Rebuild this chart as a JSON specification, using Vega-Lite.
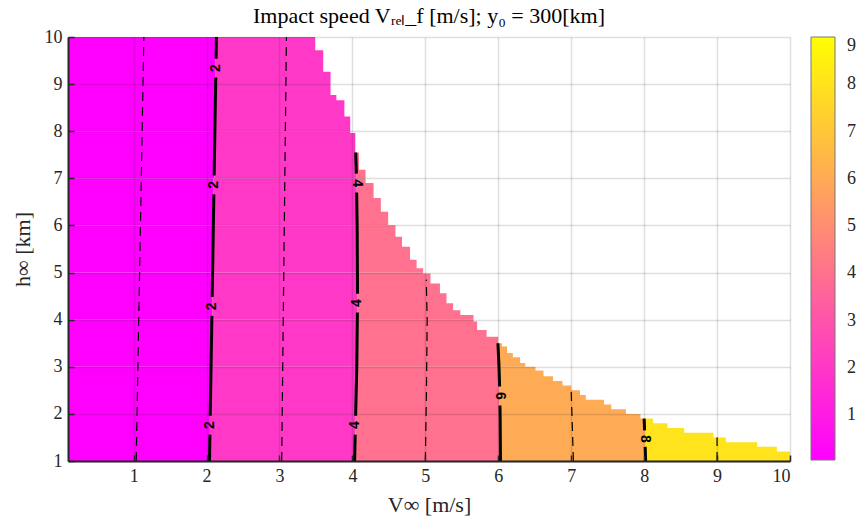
{
  "$schema": "https://vega.github.io/schema/vega-lite/v6.json",
  "width": 722,
  "height": 424,
  "autosize": {"type": "none"},
  "padding": {"left": 68, "top": 37, "right": 78, "bottom": 62},
  "background": "white",
  "title": {
    "text": "Impact speed Vᵣₑₗ_f [m/s];  y₀ = 300[km]",
    "font": "Liberation Serif",
    "fontSize": 22,
    "fontWeight": "normal",
    "color": "#000000",
    "offset": 0
  },
  "config": {
    "view": {"stroke": null},
    "axis": {
      "labelFont": "Liberation Serif",
      "labelFontSize": 18,
      "labelColor": "#262626",
      "titleFont": "Liberation Serif",
      "titleFontSize": 22,
      "titleFontWeight": "normal",
      "titleColor": "#262626",
      "domainColor": "#262626",
      "domainWidth": 2,
      "tickColor": "#262626",
      "tickWidth": 1.5,
      "tickSize": -6,
      "labelPadding": 12,
      "gridColor": "#262626",
      "gridOpacity": 0.15,
      "gridWidth": 1.5
    },
    "axisX": {"titlePadding": 9},
    "axisY": {"titlePadding": 10},
    "legend": {
      "orient": "right",
      "offset": 21,
      "padding": 0,
      "gradientLength": 423,
      "gradientThickness": 24,
      "gradientStrokeColor": "#777777",
      "gradientStrokeWidth": 1,
      "labelFont": "Liberation Serif",
      "labelFontSize": 18,
      "labelColor": "#262626",
      "labelOverlap": false,
      "labelBaseline": "middle"
    }
  },
  "datasets": {
    "bands": [
      {"band": "0-2", "level": 0.05, "h": 1, "h2": 2, "V": 0.1, "V2": 2.046},
      {"band": "0-2", "level": 0.05, "h": 2, "h2": 3, "V": 0.1, "V2": 2.056},
      {"band": "0-2", "level": 0.05, "h": 3, "h2": 4, "V": 0.1, "V2": 2.067},
      {"band": "0-2", "level": 0.05, "h": 4, "h2": 5, "V": 0.1, "V2": 2.077},
      {"band": "0-2", "level": 0.05, "h": 5, "h2": 6, "V": 0.1, "V2": 2.088},
      {"band": "0-2", "level": 0.05, "h": 6, "h2": 7, "V": 0.1, "V2": 2.098},
      {"band": "0-2", "level": 0.05, "h": 7, "h2": 8, "V": 0.1, "V2": 2.109},
      {"band": "0-2", "level": 0.05, "h": 8, "h2": 10, "V": 0.1, "V2": 2.125},
      {"band": "2-4", "level": 2, "h": 1, "h2": 2, "V": 2.046, "V2": 4.038},
      {"band": "2-4", "level": 2, "h": 2, "h2": 3, "V": 2.056, "V2": 4.053},
      {"band": "2-4", "level": 2, "h": 3, "h2": 4, "V": 2.067, "V2": 4.064},
      {"band": "2-4", "level": 2, "h": 4, "h2": 5, "V": 2.077, "V2": 4.069},
      {"band": "2-4", "level": 2, "h": 5, "h2": 6, "V": 2.088, "V2": 4.068},
      {"band": "2-4", "level": 2, "h": 6, "h2": 7, "V": 2.098, "V2": 4.06},
      {"band": "2-4", "level": 2, "h": 7, "h2": 8, "V": 2.109, "V2": 4.05},
      {"band": "2-4", "level": 2, "h": 8, "h2": 10, "V": 2.125, "V2": 4.042},
      {"band": "4-6", "level": 4, "h": 1, "h2": 2, "V": 4.038, "V2": 6.028},
      {"band": "4-6", "level": 4, "h": 2, "h2": 3, "V": 4.053, "V2": 6.018},
      {"band": "4-6", "level": 4, "h": 3, "h2": 4, "V": 4.064, "V2": 6.003},
      {"band": "4-6", "level": 4, "h": 4, "h2": 5, "V": 4.069, "V2": 5.995},
      {"band": "4-6", "level": 4, "h": 5, "h2": 6, "V": 4.068, "V2": 5.995},
      {"band": "4-6", "level": 4, "h": 6, "h2": 7, "V": 4.06, "V2": 5.995},
      {"band": "4-6", "level": 4, "h": 7, "h2": 8, "V": 4.05, "V2": 5.995},
      {"band": "4-6", "level": 4, "h": 8, "h2": 10, "V": 4.042, "V2": 5.995},
      {"band": "6-8", "level": 6, "h": 1, "h2": 2, "V": 6.028, "V2": 8.01},
      {"band": "6-8", "level": 6, "h": 2, "h2": 3, "V": 6.018, "V2": 8.0},
      {"band": "6-8", "level": 6, "h": 3, "h2": 4, "V": 6.003, "V2": 8.0},
      {"band": "6-8", "level": 6, "h": 4, "h2": 10, "V": 5.995, "V2": 8.0},
      {"band": "8-10", "level": 8, "h": 1, "h2": 2, "V": 8.01, "V2": 10},
      {"band": "8-10", "level": 8, "h": 2, "h2": 10, "V": 8.0, "V2": 10}
    ],
    "edge": [
      {"V": 0.1, "h": 10},
      {"V": 3.49, "h": 9.72},
      {"V": 3.6, "h": 9.26},
      {"V": 3.7, "h": 8.77},
      {"V": 3.78, "h": 8.66},
      {"V": 3.89, "h": 8.31},
      {"V": 3.97, "h": 7.96},
      {"V": 4.04, "h": 7.55},
      {"V": 4.09, "h": 7.18},
      {"V": 4.18, "h": 6.9},
      {"V": 4.29, "h": 6.58},
      {"V": 4.39, "h": 6.29},
      {"V": 4.49, "h": 6.01},
      {"V": 4.59, "h": 5.76},
      {"V": 4.68, "h": 5.55},
      {"V": 4.79, "h": 5.27},
      {"V": 4.88, "h": 5.09},
      {"V": 4.97, "h": 4.98},
      {"V": 5.07, "h": 4.77},
      {"V": 5.2, "h": 4.56},
      {"V": 5.29, "h": 4.35},
      {"V": 5.38, "h": 4.2},
      {"V": 5.48, "h": 4.1},
      {"V": 5.66, "h": 3.96},
      {"V": 5.71, "h": 3.78},
      {"V": 5.84, "h": 3.64},
      {"V": 6.0, "h": 3.5},
      {"V": 6.05, "h": 3.43},
      {"V": 6.12, "h": 3.29},
      {"V": 6.2, "h": 3.2},
      {"V": 6.3, "h": 3.08},
      {"V": 6.37, "h": 3.0},
      {"V": 6.51, "h": 2.92},
      {"V": 6.62, "h": 2.8},
      {"V": 6.75, "h": 2.7},
      {"V": 6.88, "h": 2.6},
      {"V": 7.0, "h": 2.5},
      {"V": 7.12, "h": 2.4},
      {"V": 7.2, "h": 2.3},
      {"V": 7.45, "h": 2.2},
      {"V": 7.55, "h": 2.1},
      {"V": 7.75, "h": 2.0},
      {"V": 7.95, "h": 1.9},
      {"V": 8.12, "h": 1.8},
      {"V": 8.32, "h": 1.7},
      {"V": 8.55, "h": 1.6},
      {"V": 8.95, "h": 1.5},
      {"V": 9.12, "h": 1.4},
      {"V": 9.55, "h": 1.3},
      {"V": 9.82, "h": 1.2},
      {"V": 10, "h": 1.2}
    ],
    "solid": [
      {"seg": "2a", "h": 1, "V": 2.04}, {"seg": "2a", "h": 1.56, "V": 2.046},
      {"seg": "2b", "h": 1.96, "V": 2.05}, {"seg": "2b", "h": 4.08, "V": 2.073},
      {"seg": "2c", "h": 4.48, "V": 2.077}, {"seg": "2c", "h": 6.66, "V": 2.1},
      {"seg": "2d", "h": 7.06, "V": 2.104}, {"seg": "2d", "h": 9.14, "V": 2.126},
      {"seg": "2e", "h": 9.54, "V": 2.131}, {"seg": "2e", "h": 10, "V": 2.135},
      {"seg": "4a", "h": 1, "V": 4.03}, {"seg": "4a", "h": 1.56, "V": 4.038},
      {"seg": "4b", "h": 1.96, "V": 4.044}, {"seg": "4b", "h": 3, "V": 4.06}, {"seg": "4b", "h": 4.15, "V": 4.068},
      {"seg": "4c", "h": 4.55, "V": 4.07}, {"seg": "4c", "h": 6, "V": 4.065}, {"seg": "4c", "h": 6.7, "V": 4.058},
      {"seg": "4d", "h": 7.1, "V": 4.054}, {"seg": "4d", "h": 7.55, "V": 4.045},
      {"seg": "6a", "h": 1, "V": 6.03}, {"seg": "6a", "h": 2, "V": 6.025}, {"seg": "6a", "h": 2.18, "V": 6.023},
      {"seg": "6b", "h": 2.58, "V": 6.018}, {"seg": "6b", "h": 3, "V": 6.01}, {"seg": "6b", "h": 3.5, "V": 5.995},
      {"seg": "8a", "h": 1, "V": 8.02}, {"seg": "8a", "h": 1.3, "V": 8.014},
      {"seg": "8b", "h": 1.65, "V": 8.006}, {"seg": "8b", "h": 1.9, "V": 8.0}
    ],
    "dashed": [
      {"seg": "1", "h": 1, "V": 1.035}, {"seg": "1", "h": 4, "V": 1.07}, {"seg": "1", "h": 7, "V": 1.105}, {"seg": "1", "h": 10, "V": 1.14},
      {"seg": "3", "h": 1, "V": 3.03}, {"seg": "3", "h": 5.5, "V": 3.062}, {"seg": "3", "h": 10, "V": 3.095},
      {"seg": "5", "h": 1, "V": 5.0}, {"seg": "5", "h": 2.5, "V": 5.015}, {"seg": "5", "h": 4, "V": 5.025}, {"seg": "5", "h": 4.85, "V": 5.012},
      {"seg": "7", "h": 1, "V": 7.03}, {"seg": "7", "h": 2.47, "V": 7.0},
      {"seg": "9", "h": 1, "V": 9.0}, {"seg": "9", "h": 1.5, "V": 9.0}
    ],
    "labels": [
      {"txt": "2", "V": 2.127, "h": 9.34, "a": 270},
      {"txt": "2", "V": 2.102, "h": 6.86, "a": 270},
      {"txt": "2", "V": 2.075, "h": 4.28, "a": 270},
      {"txt": "2", "V": 2.048, "h": 1.76, "a": 270},
      {"txt": "4", "V": 4.056, "h": 6.9, "a": 90},
      {"txt": "4", "V": 4.069, "h": 4.35, "a": 270},
      {"txt": "4", "V": 4.041, "h": 1.76, "a": 270},
      {"txt": "6", "V": 6.021, "h": 2.38, "a": 90},
      {"txt": "8", "V": 8.01, "h": 1.47, "a": 90}
    ]
  },
  "encoding": {
    "x": {
      "field": "V",
      "type": "quantitative",
      "scale": {"domain": [0.1, 10], "nice": false, "zero": false},
      "axis": {"values": [1, 2, 3, 4, 5, 6, 7, 8, 9, 10], "title": "V∞ [m/s]", "zindex": 1}
    },
    "y": {
      "field": "h",
      "type": "quantitative",
      "scale": {"domain": [1, 10], "nice": false, "zero": false},
      "axis": {"values": [1, 2, 3, 4, 5, 6, 7, 8, 9, 10], "title": "h∞ [km]", "zindex": 1}
    }
  },
  "layer": [
    {
      "data": {"name": "bands"},
      "mark": {"type": "rect", "strokeWidth": 0},
      "encoding": {
        "x2": {"field": "V2"},
        "y2": {"field": "h2"},
        "color": {
          "field": "level",
          "type": "quantitative",
          "scale": {"domain": [0.05, 9], "range": ["#ff00ff", "#ffff00"], "interpolate": "rgb"},
          "legend": {"title": null, "values": [1, 2, 3, 4, 5, 6, 7, 8, 9], "labelOffset": 12}
        }
      }
    },
    {
      "data": {"name": "edge"},
      "mark": {"type": "area", "interpolate": "step-after", "color": "white"},
      "encoding": {
        "y2": {"datum": 10}
      }
    },
    {
      "data": {"name": "dashed"},
      "mark": {"type": "line", "color": "black", "strokeWidth": 1.2, "strokeDash": [9, 6]},
      "encoding": {
        "detail": {"field": "seg"},
        "order": {"field": "h", "type": "quantitative"}
      }
    },
    {
      "data": {"name": "solid"},
      "mark": {"type": "line", "color": "black", "strokeWidth": 3, "strokeCap": "butt"},
      "encoding": {
        "detail": {"field": "seg"},
        "order": {"field": "h", "type": "quantitative"}
      }
    },
    {
      "data": {"name": "labels"},
      "mark": {"type": "text", "font": "Liberation Sans", "fontSize": 14, "fontWeight": "bold", "color": "black", "align": "center", "baseline": "middle"},
      "encoding": {
        "text": {"field": "txt"},
        "angle": {"field": "a", "type": "quantitative", "scale": null}
      }
    }
  ]
}
